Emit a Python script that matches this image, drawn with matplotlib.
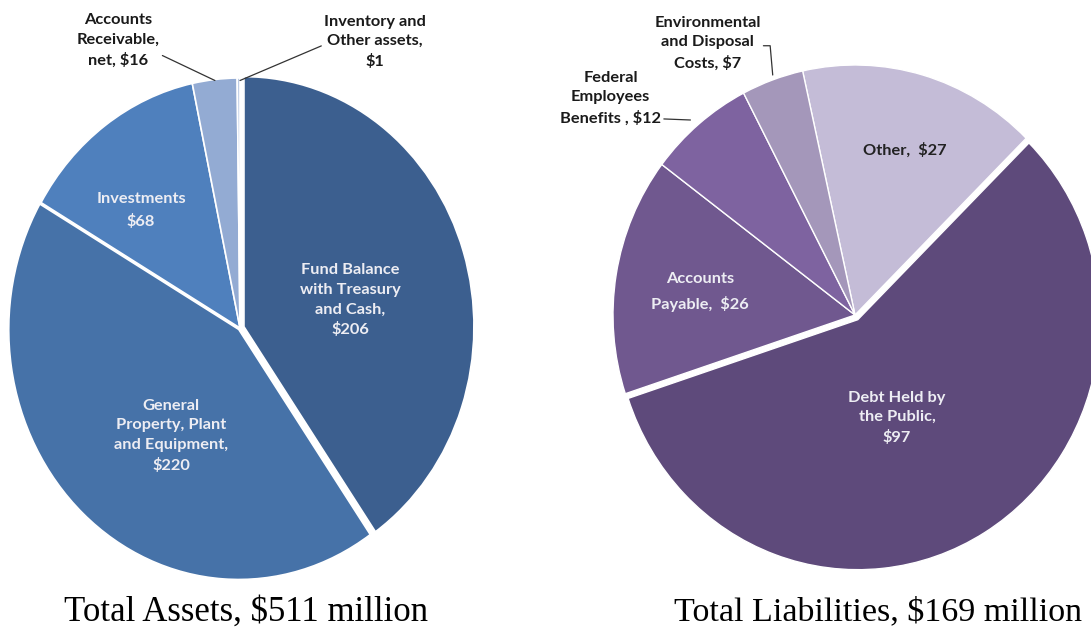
import matplotlib.pyplot as plt

# assets (millions of $)
asset_labels = ["Fund Balance\nwith Treasury\nand Cash,\n$206",
                "General\nProperty, Plant\nand Equipment,\n$220",
                "Investments\n$68",
                "Accounts\nReceivable,\nnet, $16",
                "Inventory and\nOther assets,\n$1"]
asset_values = [206, 220, 68, 16, 1]
asset_colors = ["#3C5F8F", "#4672A8", "#4F80BD", "#93ABD3", "#B9C9E3"]

# liabilities (millions of $)
liab_labels = ["Other,  $27",
               "Debt Held by\nthe Public,\n$97",
               "Accounts\nPayable,  $26",
               "Federal\nEmployees\nBenefits , $12",
               "Environmental\nand Disposal\nCosts, $7"]
liab_values = [27, 97, 26, 12, 7]
liab_colors = ["#C4BCD7", "#5E4A7B", "#70588F", "#7E63A0", "#A497BA"]

W, H = 1091, 641
fig = plt.figure(figsize=(W / 100, H / 100), dpi=100)

lab_font = dict(family=["Lato", "DejaVu Sans"], fontweight="bold", fontsize=11.8)
inner = "#EDEDF3"
ls = 1.5


def pie_axes(cx, cy, rx, ry):
    # cx, cy in pixels from top-left
    w, h = 2.4 * rx, 2.4 * ry
    ax = fig.add_axes([(cx - w / 2) / W, (H - cy - h / 2) / H, w / W, h / H])
    ax.axis("off")
    return ax


def fix_limits(ax):
    ax.set_aspect("auto")
    ax.set_xlim(-1.2, 1.2)
    ax.set_ylim(-1.2, 1.2)


# ---- left pie
ax1 = pie_axes(240, 328, 230, 250)
ax1.pie(asset_values, colors=asset_colors, startangle=90, counterclock=False,
        explode=[0.018, 0.008, 0, 0, 0],
        wedgeprops=dict(edgecolor="white", linewidth=1.2))
fix_limits(ax1)

ax1.text(0.48, 0.11, asset_labels[0], ha="center", va="center", color=inner,
         linespacing=ls, **lab_font)
ax1.text(-0.30, -0.43, asset_labels[1], ha="center", va="center", color=inner,
         linespacing=ls, **lab_font)
ax1.text(-0.43, 0.47, asset_labels[2], ha="center", va="center", color=inner,
         linespacing=1.7, **lab_font)
ax1.annotate(asset_labels[3], xy=(-0.109, 0.99), xytext=(-0.53, 1.15),
             ha="center", va="center", color="#1A1A1A", linespacing=ls,
             arrowprops=dict(arrowstyle="-", color="#333333", lw=0.9,
                             shrinkA=0, shrinkB=0, relpos=(1.0, 0.25)),
             annotation_clip=False, **lab_font)
ax1.annotate(asset_labels[4], xy=(0.0, 0.99), xytext=(0.587, 1.144),
             ha="center", va="center", color="#1A1A1A", linespacing=ls,
             arrowprops=dict(arrowstyle="-", color="#333333", lw=0.9,
                             shrinkA=0, shrinkB=0, relpos=(0.0, 0.45)),
             annotation_clip=False, **lab_font)

# ---- right pie
ax2 = pie_axes(855, 315, 242, 250)
ax2.pie(liab_values, colors=liab_colors, startangle=102.5, counterclock=False,
        explode=[0, 0.022, 0, 0, 0],
        wedgeprops=dict(edgecolor="white", linewidth=1.0))
fix_limits(ax2)

ax2.text(0.207, 0.66, liab_labels[0], ha="center", va="center", color="#222222",
         **lab_font)
ax2.text(0.174, -0.412, liab_labels[1], ha="center", va="center", color=inner,
         linespacing=ls, **lab_font)
ax2.text(-0.64, 0.092, liab_labels[2], ha="center", va="center", color=inner,
         linespacing=1.7, **lab_font)
ax2.annotate(liab_labels[3], xy=(-0.68, 0.78), xytext=(-1.01, 0.868),
             ha="center", va="center", color="#1A1A1A", linespacing=ls,
             arrowprops=dict(arrowstyle="-", color="#333333", lw=0.9,
                             shrinkA=0, shrinkB=0, relpos=(1.0, 0.12)),
             annotation_clip=False, **lab_font)
ax2.annotate(liab_labels[4], xy=(-0.34, 0.96), xytext=(-0.61, 1.088),
             ha="center", va="center", color="#1A1A1A", linespacing=ls,
             arrowprops=dict(arrowstyle="-", color="#333333", lw=0.9,
                             shrinkA=0, shrinkB=0, relpos=(1.0, 0.45),
                             connectionstyle="angle,angleA=0,angleB=95,rad=0"),
             annotation_clip=False, **lab_font)

# ---- totals
title_font = dict(family=["Liberation Serif", "DejaVu Serif"], fontsize=25)
fig.text(246 / W, 1 - 612 / H, "Total Assets, $%d million" % sum(asset_values),
         ha="center", va="center", **title_font)
fig.text(878 / W, 1 - 612 / H, "Total Liabilities, $%d million" % sum(liab_values),
         ha="center", va="center", fontsize=24.5,
         family=["Liberation Serif", "DejaVu Serif"])

fig.savefig("out.png", dpi=100)
